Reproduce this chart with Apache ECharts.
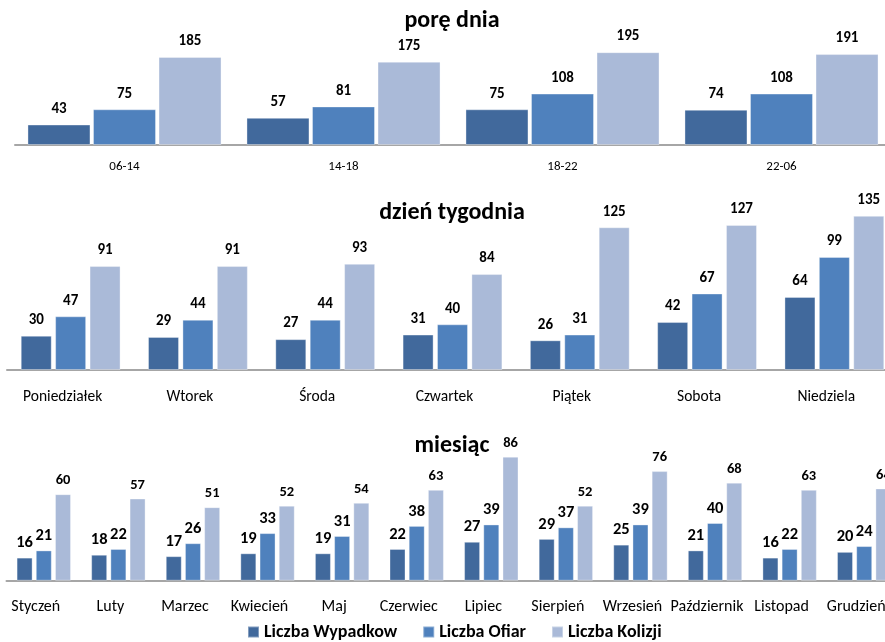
<!DOCTYPE html>
<html><head><meta charset="utf-8">
<script src="https://cdn.jsdelivr.net/npm/echarts@6/dist/echarts.min.js"></script>
<style>html,body{margin:0;padding:0;background:#fff}#c{width:885px;height:642px}</style>
</head><body><div id="c"></div>
<script>
const seriesNames = ['Liczba Wypadkow', 'Liczba Ofiar', 'Liczba Kolizji'];
const colors = ['#41699C', '#4F81BD', '#AABAD8'];

const timeCats = ['06-14', '14-18', '18-22', '22-06'];
const timeWypadki = [43, 57, 75, 74];
const timeOfiary = [75, 81, 108, 108];
const timeKolizje = [185, 175, 195, 191];

const dayCats = ['Poniedziałek', 'Wtorek', 'Środa', 'Czwartek', 'Piątek', 'Sobota', 'Niedziela'];
const dayWypadki = [30, 29, 27, 31, 26, 42, 64];
const dayOfiary = [47, 44, 44, 40, 31, 67, 99];
const dayKolizje = [91, 91, 93, 84, 125, 127, 135];

const monthCats = ['Styczeń', 'Luty', 'Marzec', 'Kwiecień', 'Maj', 'Czerwiec', 'Lipiec', 'Sierpień', 'Wrzesień', 'Październik', 'Listopad', 'Grudzień'];
const monthWypadki = [16, 18, 17, 19, 19, 22, 27, 29, 25, 21, 16, 20];
const monthOfiary = [21, 22, 26, 33, 31, 38, 39, 37, 39, 40, 22, 24];
const monthKolizje = [60, 57, 51, 52, 54, 63, 86, 52, 76, 68, 63, 64];

const titles = ['porę dnia', 'dzień tygodnia', 'miesiąc'];

const FONT = "Carlito, Lato, 'Noto Sans', sans-serif";
const chart = echarts.init(document.getElementById('c'), null, {renderer: 'canvas'});

const panels = [
  {cats: timeCats, data: [timeWypadki, timeOfiary, timeKolizje], max: 250, grid: {left: 15, width: 876, top: 26, height: 119},
   barWidth: 63, barGap: '4%', labelSizes: [15, 15, 15], axisFont: 13, axisMargin: 15, axisPad: [0, 0, 0, 0], dist: 8},
  {cats: dayCats, data: [dayWypadki, dayOfiary, dayKolizje], max: 150, grid: {left: 7, width: 891, top: 198.7, height: 171.3},
   barWidth: 31, barGap: '11%', labelSizes: [15, 15, 15], axisFont: 15.5, axisMargin: 19, axisPad: [0, 16, 0, 0], dist: 8},
  {cats: monthCats, data: [monthWypadki, monthOfiary, monthKolizje], max: 100, grid: {left: 6.5, width: 895, top: 436.5, height: 144.2},
   barWidth: 16, barGap: '20%', labelSizes: [16.5, 16.5, 14.5], axisFont: 16, axisMargin: 18, axisPad: [0, 16, 0, 0], dist: 6}
];

const titleStyle = {fontFamily: FONT, fontSize: 24, fontWeight: 'bold', color: '#000'};

const option = {
  animation: false,
  backgroundColor: '#fff',
  textStyle: {fontFamily: FONT},
  title: [
    {text: titles[0], left: 452, top: 9, textAlign: 'center', padding: 0, textStyle: titleStyle},
    {text: titles[1], left: 452, top: 201, textAlign: 'center', padding: 0, textStyle: titleStyle},
    {text: titles[2], left: 452, top: 434, textAlign: 'center', padding: 0, textStyle: titleStyle}
  ],
  legend: {
    data: seriesNames, left: 247, top: 623, itemWidth: 11, itemHeight: 11, itemGap: 25, padding: 0,
    icon: 'rect',
    textStyle: {fontFamily: FONT, fontSize: 18, fontWeight: 'bold', color: '#000'}
  },
  grid: panels.map(p => Object.assign({containLabel: false, outerBoundsMode: 'none'}, p.grid)),
  xAxis: panels.map((p, i) => ({
    type: 'category', gridIndex: i, data: p.cats,
    axisLine: {lineStyle: {color: '#A6A6A6', width: 2}},
    axisTick: {show: false},
    axisLabel: {interval: 0, hideOverlap: false, fontFamily: FONT, fontSize: p.axisFont, color: '#000', margin: p.axisMargin, padding: p.axisPad}
  })),
  yAxis: panels.map((p, i) => ({
    type: 'value', gridIndex: i, min: 0, max: p.max, show: false, splitLine: {show: false}
  })),
  series: []
};

panels.forEach((p, i) => {
  p.data.forEach((arr, s) => {
    option.series.push({
      name: seriesNames[s], type: 'bar', xAxisIndex: i, yAxisIndex: i, data: arr,
      barWidth: p.barWidth, barGap: p.barGap,
      itemStyle: {color: colors[s], borderColor: 'rgba(255,255,255,0.35)', borderWidth: 1},
      label: {show: true, position: 'top', distance: p.dist, fontFamily: FONT, fontSize: p.labelSizes[s], fontWeight: 'bold', color: '#000'}
    });
  });
});

chart.setOption(option);
</script></body></html>
